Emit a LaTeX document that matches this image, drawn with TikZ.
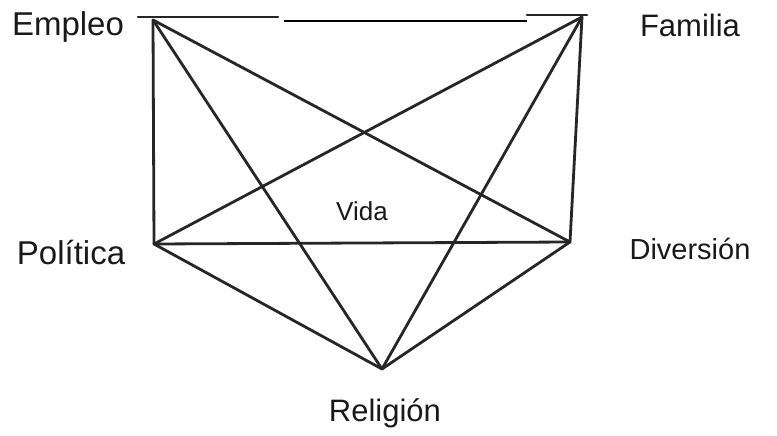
\documentclass[tikz,border=0pt]{standalone}
\usepackage{fontspec}
\setmainfont{Liberation Sans}
\begin{document}
\begin{tikzpicture}[x=1pt,y=-1pt,
  edge/.style={line width=2.8pt,black!85,line cap=round},
  thinedge/.style={line width=1.3pt,black},
  lbl/.style={font=\fontsize{31}{34}\selectfont,inner sep=0pt,text=black!90}]
\useasboundingbox (0,0) rectangle (777,436);
\coordinate (E) at (153,20);
\coordinate (F) at (582,17);
\coordinate (P) at (154,244);
\coordinate (D) at (570,242);
\coordinate (R) at (382,369);
\coordinate (t1) at (138,17);
\coordinate (t2) at (278,17);
\coordinate (t3) at (284,21);
\coordinate (t4) at (527,21);
\coordinate (t5) at (527,15);
\coordinate (t6) at (587,15);
\draw[edge] (t1) -- (t2);
\draw[thinedge] (t3) -- (t4);
\draw[edge] (t5) -- (t6);
\draw[edge] (E) -- (P);
\draw[edge] (E) -- (D);
\draw[edge] (E) -- (R);
\draw[edge] (F) -- (P);
\draw[edge] (F) -- (D);
\draw[edge] (F) -- (R);
\draw[edge] (P) -- (D);
\draw[edge] (P) -- (R);
\draw[edge] (D) -- (R);
\node[lbl,font=\fontsize{33}{36}\selectfont] (lE) at (68,27) {Empleo};
\node[lbl] (lF) at (690,25) {Familia};
\node[lbl,font=\fontsize{33}{36}\selectfont] (lP) at (71,253) {Política};
\node[lbl,font=\fontsize{29}{32}\selectfont] (lD) at (690,249) {Diversión};
\node[lbl,font=\fontsize{26}{30}\selectfont] (lV) at (362,211) {Vida};
\node[lbl] (lR) at (385,413) {Religión};
\end{tikzpicture}
\end{document}
